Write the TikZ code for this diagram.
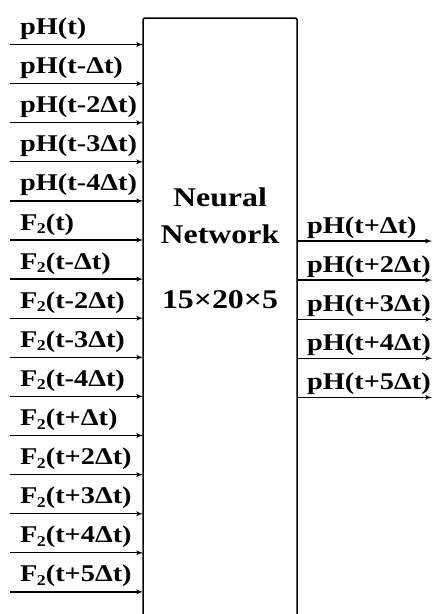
\documentclass[tikz,border=0pt]{standalone}
\usepackage{fontspec}
\setmainfont[FakeStretch=1.18]{Liberation Serif}
\usepackage{tikz}
\usetikzlibrary{arrows}

\newcommand{\Ftwo}{F\kern-0.5pt\lower3.5pt\hbox{\fontsize{15}{15}\selectfont 2}}

\begin{document}
\begin{tikzpicture}[x=1pt, y=-1pt]

  \tikzset{sig/.style = {->,> = latex',line width=1.3pt}}
  \tikzset{lbl/.style = {anchor=base west,inner sep=0pt,font=\bfseries\fontsize{24}{24}\selectfont}}
  \tikzset{mid/.style = {anchor=base,inner sep=0pt,font=\bfseries\fontsize{27}{27}\selectfont}}
  \useasboundingbox (0,0) rectangle (433,614);
  % network box
  \coordinate (bl) at (143,614);
  \coordinate (tr) at (297,18);
  \coordinate (br) at (297,614);
  \draw[line width=1.5pt, rounded corners=1.5pt] (bl) |- (tr) -- (br);
  \node[mid] (nn1) at (220,206) {Neural};
  \node[mid] (nn2) at (220,243) {Network};
  \node[mid] (nn3) at (220,308) {15×20×5};
  % inputs
  \foreach \lab [count=\i from 0] in {pH(t), pH(t-Δt), pH(t-2Δt), pH(t-3Δt), pH(t-4Δt),
      \Ftwo(t), \Ftwo(t-Δt), \Ftwo(t-2Δt), \Ftwo(t-3Δt), \Ftwo(t-4Δt),
      \Ftwo(t+Δt), \Ftwo(t+2Δt), \Ftwo(t+3Δt), \Ftwo(t+4Δt), \Ftwo(t+5Δt)} {
    \coordinate (in\i) at (10,44.5+39.1*\i);
    \coordinate (inend\i) at (143,44.5+39.1*\i);
    \node[lbl] (inlab\i) at (20,34.5+39.1*\i) {\lab};
    \draw[sig] (in\i) -- (inend\i);
  }
  % outputs
  \foreach \lab [count=\i from 0] in {pH(t+Δt), pH(t+2Δt), pH(t+3Δt), pH(t+4Δt), pH(t+5Δt)} {
    \coordinate (out\i) at (297,241+39.1*\i);
    \coordinate (outend\i) at (432,241+39.1*\i);
    \node[lbl] (outlab\i) at (307,233+39.1*\i) {\lab};
    \draw[sig] (out\i) -- (outend\i);
  }
\end{tikzpicture}
\end{document}
